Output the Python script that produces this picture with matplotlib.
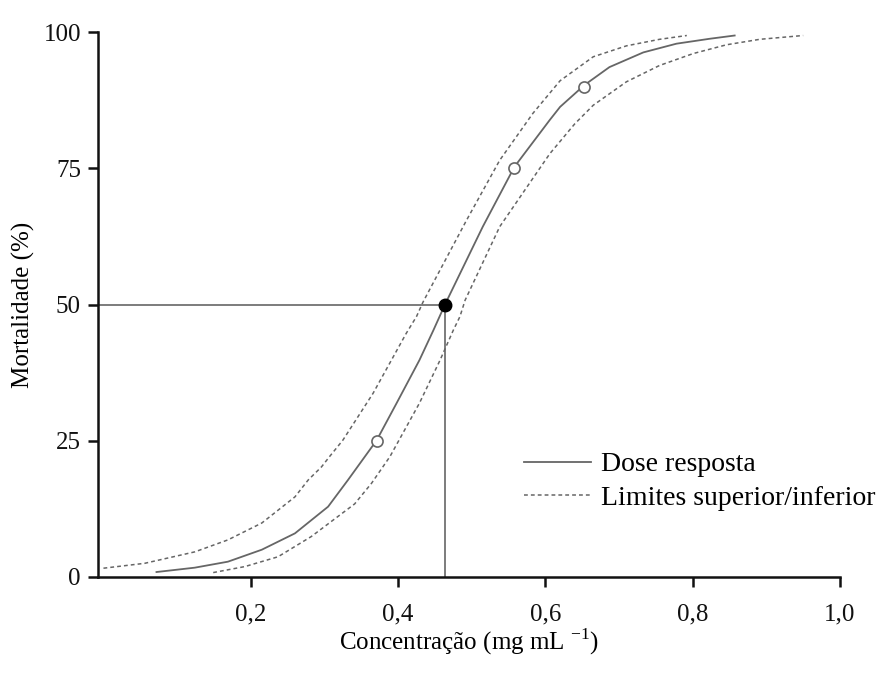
import matplotlib
matplotlib.use("Agg")
import matplotlib.pyplot as plt

plt.rcParams['font.family'] = ['Liberation Serif', 'DejaVu Serif']
plt.rcParams['mathtext.fontset'] = 'custom'
plt.rcParams['mathtext.rm'] = 'Liberation Serif'

# Dose-response curve (concentration, mortality %)
dose_x = [0.072, 0.124, 0.169, 0.215, 0.260, 0.305, 0.332, 0.371, 0.398, 0.429,
          0.448, 0.464, 0.515, 0.558, 0.606, 0.620, 0.653, 0.687, 0.733, 0.778,
          0.823, 0.857]
dose_y = [0.9, 1.7, 2.8, 5.0, 8.0, 12.9, 17.8, 25.1, 31.9, 39.8,
          45.3, 50.1, 64.3, 75.3, 83.9, 86.3, 90.3, 93.6, 96.3, 97.9,
          98.8, 99.4]

# Upper confidence limit
upper_x = [0.0, 0.056, 0.124, 0.169, 0.215, 0.260, 0.278, 0.296, 0.307, 0.325,
           0.366, 0.411, 0.425, 0.434, 0.493, 0.538, 0.583, 0.620, 0.665,
           0.710, 0.755, 0.792]
upper_y = [1.6, 2.5, 4.6, 6.8, 9.9, 14.7, 17.8, 20.2, 22.1, 25.1,
           33.7, 44.7, 47.8, 50.5, 65.5, 76.5, 85.1, 91.1, 95.5,
           97.5, 98.7, 99.4]

# Lower confidence limit
lower_x = [0.149, 0.192, 0.237, 0.282, 0.341, 0.364, 0.389, 0.429, 0.457, 0.475,
           0.484, 0.491, 0.538, 0.606, 0.640, 0.665, 0.710, 0.755, 0.801, 0.846,
           0.891, 0.950]
lower_y = [0.8, 1.9, 3.7, 7.4, 13.4, 17.2, 22.1, 31.9, 39.8, 45.3,
           47.8, 50.8, 64.3, 77.7, 83.2, 86.6, 90.9, 93.9, 96.1, 97.7,
           98.7, 99.4]

# Marked points: LC25, LC75, LC90 (open) and LC50 (filled)
open_x = [0.371, 0.558, 0.653]
open_y = [25, 75, 90]
lc50_x = 0.464
lc50_y = 50

grey = '#666666'

fig, ax = plt.subplots(figsize=(8.87, 6.86), dpi=100)
fig.subplots_adjust(left=0.110, right=0.947, top=0.953, bottom=0.159)

ax.plot(dose_x, dose_y, color=grey, lw=1.3, label='Dose resposta', zorder=3)
ax.plot(upper_x, upper_y, color=grey, lw=1.1, ls=(0, (2.5, 2)),
        label='Limites superior/inferior')
ax.plot(lower_x, lower_y, color=grey, lw=1.1, ls=(0, (2.5, 2)))

# guide lines to the LC50
ax.plot([-0.01, lc50_x], [lc50_y, lc50_y], color=grey, lw=1.2)
ax.plot([lc50_x, lc50_x], [0, lc50_y], color=grey, lw=1.2)

ax.plot(open_x, open_y, 'o', ms=8, mfc='white', mec=grey, mew=1.2, zorder=4)
ax.plot([lc50_x], [lc50_y], 'o', ms=9, color='black', zorder=5)

ax.set_xlim(-0.008, 1.0)
ax.set_ylim(0, 100)
ax.set_xticks([0.2, 0.4, 0.6, 0.8, 1.0])
ax.set_xticklabels(['0,2', '0,4', '0,6', '0,8', '1,0'])
ax.set_yticks([0, 25, 50, 75, 100])

for s in ['top', 'right']:
    ax.spines[s].set_visible(False)
for s in ['left', 'bottom']:
    ax.spines[s].set_linewidth(1.8)
    ax.spines[s].set_color('#111111')
ax.tick_params(direction='out', length=7, width=1.8, labelsize=18, pad=5,
               colors='#111111')
ax.tick_params(axis='x', pad=12)

ax.set_xlabel('Concentração (mg mL $^{\\mathrm{-1}}$)', fontsize=18, labelpad=1)
ax.set_ylabel('Mortalidade (%)', fontsize=18, labelpad=6)

ax.legend(loc='upper left', bbox_to_anchor=(0.56, 0.25), frameon=False,
          fontsize=20, handlelength=2.4, handletextpad=0.35, labelspacing=0.3,
          borderaxespad=0)

fig.savefig('out.png', dpi=100)
